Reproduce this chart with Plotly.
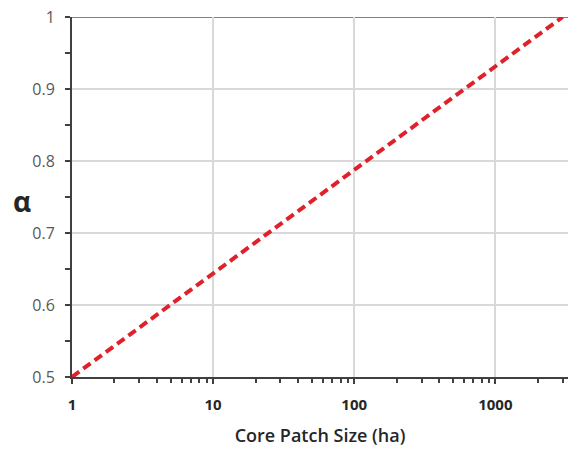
import plotly.graph_objects as go

# Core patch size (ha) and the corresponding alpha value of the fitted line
patch_size = [1, 3000]
alpha = [0.5, 1.0]

x_tick_vals = [1, 10, 100, 1000]
x_tick_text = ["1", "10", "100", "1000"]
y_tick_vals = [0.5, 0.6, 0.7, 0.8, 0.9, 1.0]
y_tick_text = ["0.5", "0.6", "0.7", "0.8", "0.9", "1"]

FONT = "Open Sans, sans-serif"
AXIS_COLOR = "#404040"
GRID_COLOR = "#d9d9d9"

fig = go.Figure()
fig.add_trace(go.Scatter(
    x=patch_size, y=alpha, mode="lines",
    line=dict(color="#e0202a", width=4, dash="9px,5px"),
    showlegend=False, hoverinfo="skip",
))

x_range = [0, 3.515]
y_range = [0.5, 1.0]

fig.update_layout(
    width=568, height=452,
    margin=dict(l=72, r=0, t=17, b=75),
    plot_bgcolor="white", paper_bgcolor="white",
    font=dict(family=FONT, color="#595959", size=14),
    xaxis=dict(
        type="log", range=x_range,
        tickvals=x_tick_vals, ticktext=x_tick_text,
        tickfont=dict(family=FONT, size=15, color="#262626", weight="bold"),
        ticks="outside", ticklen=5, tickwidth=2, tickcolor=AXIS_COLOR,
        minor=dict(ticks="outside", ticklen=4, tickwidth=1.5,
                   tickcolor=AXIS_COLOR, dtick="D1", showgrid=False),
        showgrid=True, gridcolor=GRID_COLOR, gridwidth=2,
        showline=True, linecolor=AXIS_COLOR, linewidth=2,
        zeroline=False,
        title=dict(text="Core Patch Size (ha)",
                   font=dict(family=FONT, size=18, color="#262626",
                             weight=600),
                   standoff=16),
        ticklabelstandoff=8,
    ),
    yaxis=dict(
        range=y_range,
        tickvals=y_tick_vals, ticktext=y_tick_text,
        tickfont=dict(family=FONT, size=16, color="#595959"),
        ticks="outside", ticklen=5, tickwidth=2, tickcolor=AXIS_COLOR,
        minor=dict(ticks="outside", ticklen=5, tickwidth=2,
                   tickcolor=AXIS_COLOR, dtick=0.05, showgrid=False),
        showgrid=True, gridcolor=GRID_COLOR, gridwidth=2,
        showline=True, linecolor=AXIS_COLOR, linewidth=2,
        zeroline=False,
        ticklabelstandoff=7,
    ),
    # overlay axes supply the inner half of the crossing tick marks
    xaxis2=dict(
        type="log", range=x_range, overlaying="x", anchor="y",
        tickvals=x_tick_vals, showticklabels=False,
        ticks="inside", ticklen=5, tickwidth=2, tickcolor=AXIS_COLOR,
        showgrid=False, showline=False, zeroline=False,
    ),
    yaxis2=dict(
        range=y_range, overlaying="y", anchor="x",
        tickvals=y_tick_vals, showticklabels=False,
        ticks="inside", ticklen=5, tickwidth=2, tickcolor=AXIS_COLOR,
        minor=dict(ticks="inside", ticklen=5, tickwidth=2,
                   tickcolor=AXIS_COLOR, dtick=0.05),
        showgrid=False, showline=False, zeroline=False,
    ),
    annotations=[dict(
        text="<b>α</b>", xref="paper", yref="paper", x=-0.1, y=0.49,
        xanchor="center", yanchor="middle", showarrow=False,
        font=dict(family=FONT, size=28, color="#262626"),
    )],
    shapes=[dict(
        type="line", xref="paper", yref="y", x0=0, x1=1, y0=1.0, y1=1.0,
        line=dict(color="#808080", width=2), layer="below",
    )],
)

fig.write_html("out.html")
